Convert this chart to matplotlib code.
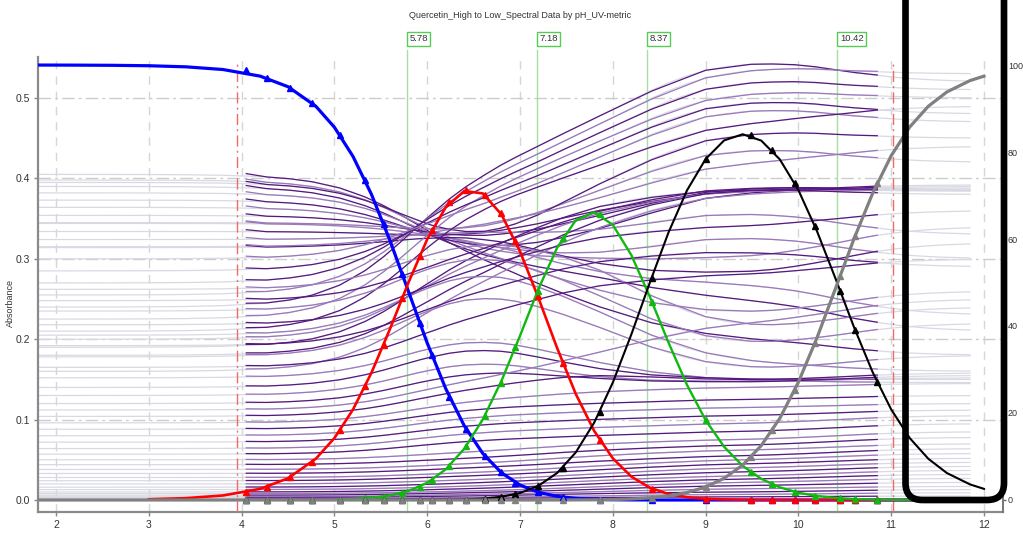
import matplotlib
matplotlib.use("Agg")
import matplotlib.pyplot as plt
import matplotlib.transforms as mtransforms
from matplotlib.patches import FancyBboxPatch
import numpy as np

plt.rcParams['font.family'] = ['Liberation Sans', 'DejaVu Sans']

title = "Quercetin_High to Low_Spectral Data by pH_UV-metric"
pka_values = [5.78, 7.18, 8.37, 10.42]
pka_labels = ["5.78", "7.18", "8.37", "10.42"]

# fitted species distribution (% of sample)
ph_fit = [1.8, 2.2, 2.6, 3.0, 3.4, 3.8, 4.2, 4.5, 4.8, 5.0, 5.2, 5.4, 5.6, 5.8, 6.0,
          6.2, 6.4, 6.6, 6.8, 7.0, 7.2, 7.4, 7.6, 7.8, 8.0, 8.2, 8.4, 8.6, 8.8, 9.0,
          9.2, 9.4, 9.6, 9.8, 10.0, 10.2, 10.4, 10.6, 10.8, 11.0, 11.2, 11.4, 11.6, 11.85, 12.0]
fit_blue = [99.99, 99.97, 99.93, 99.83, 99.58, 98.96, 97.44, 95.01, 90.52, 85.69, 79.0, 70.23,
            59.59, 47.83, 36.1, 25.59, 17.04, 10.67, 6.27, 3.44, 1.76, 0.84, 0.37, 0.15, 0.06,
            0.02, 0.01, 0, 0, 0, 0, 0, 0, 0, 0, 0, 0, 0, 0, 0, 0, 0, 0, 0, 0]
fit_red = [0.01, 0.03, 0.07, 0.17, 0.42, 1.04, 2.56, 4.99, 9.48, 14.22, 20.78, 29.28, 39.37,
           50.08, 59.92, 67.31, 71.04, 70.47, 65.64, 57.18, 46.38, 34.95, 24.43, 15.86, 9.58,
           5.38, 2.82, 1.38, 0.63, 0.28, 0.12, 0.05, 0.02, 0.01, 0, 0, 0, 0, 0, 0, 0, 0, 0, 0, 0]
fit_green = [0, 0, 0, 0, 0, 0, 0, 0, 0, 0.09, 0.22, 0.49, 1.04, 2.09, 3.96, 7.05, 11.79, 18.54,
             27.37, 37.75, 48.57, 57.99, 64.27, 66.14, 63.27, 56.3, 46.69, 36.21, 26.45, 18.37,
             12.23, 7.84, 4.87, 2.91, 1.67, 0.92, 0.47, 0.23, 0.11, 0.05, 0.02, 0.01, 0, 0, 0]
fit_black = [0, 0, 0, 0, 0, 0, 0, 0, 0, 0, 0, 0, 0, 0, 0.02, 0.05, 0.13, 0.31, 0.74, 1.61, 3.28,
             6.21, 10.91, 17.8, 26.99, 38.07, 50.02, 61.48, 71.2, 78.37, 82.67, 84.08, 82.62,
             78.3, 71.25, 61.83, 50.91, 39.69, 29.39, 20.82, 14.23, 9.48, 6.2, 3.58, 2.56]
fit_gray = [0, 0, 0, 0, 0, 0, 0, 0, 0, 0, 0, 0, 0, 0, 0, 0, 0, 0, 0, 0, 0, 0, 0.02, 0.04, 0.1,
            0.23, 0.48, 0.93, 1.71, 2.98, 4.99, 8.03, 12.51, 18.78, 27.09, 37.26, 48.62, 60.08,
            70.5, 79.14, 85.75, 90.51, 93.8, 96.42, 97.44]
curve_start = [1.8, 3.0, 5.0, 6.4, 1.8]

# titration points (pH and species % at each measured point)
ph_meas = [4.05, 4.27, 4.52, 4.76, 5.06, 5.33, 5.53, 5.73, 5.92, 6.05, 6.24, 6.42, 6.62, 6.79,
           6.95, 7.19, 7.46, 7.86, 8.42, 9.0, 9.49, 9.72, 9.96, 10.18, 10.45, 10.61, 10.85]
pts_blue = [98.9, 97.0, 94.8, 91.3, 83.9, 73.5, 63.5, 52.0, 40.7, 33.3, 23.7, 16.3, 10.1, 6.4,
            4.0, 1.8, 0.7, 0.1, 0, 0, 0, 0, 0, 0, 0, 0, 0]
pts_red = [1.8, 3.0, 5.2, 8.7, 16.0, 26.1, 35.7, 46.4, 56.2, 62.0, 68.4, 71.2, 70.2, 66.0, 59.6,
           46.9, 31.6, 13.7, 2.6, 0.3, 0, 0, 0, 0, 0, 0, 0]
pts_green = [0, 0, 0, 0, 0.1, 0.4, 0.8, 1.6, 3.1, 4.6, 7.8, 12.4, 19.3, 26.9, 35.1, 48.0, 60.3,
             65.8, 45.6, 18.4, 6.4, 3.6, 1.9, 1.0, 0.4, 0.2, 0.1]
pts_black = [0, 0, 0, 0, 0, 0, 0, 0, 0, 0, 0.1, 0.1, 0.3, 0.7, 1.3, 3.2, 7.4, 20.3, 51.1, 78.4,
             83.8, 80.4, 72.9, 62.9, 48.1, 39.1, 27.1]
pts_gray = [0, 0, 0, 0, 0, 0, 0, 0, 0, 0, 0, 0, 0, 0, 0, 0, 0, 0.1, 0.5, 3.0, 9.8, 16.0, 25.3,
            36.2, 51.5, 60.7, 72.9]

# absorbance of each pure species, one entry per wavelength
abs_s0 = [.405, .398, .390, .382, .373, .364, .354, .344, .334, .324, .314, .345, .395, .315,
          .240, .255, .270, .225, .285, .300, .210,
          .200, .180, .160, .190,
          .262, .248, .235, .218, .205, .192, .178, .165, .152, .140, .130, .120, .112, .104,
          .096, .088, .080, .072, .064, .057,
          .050, .044, .038, .033, .028, .024, .020, .016, .013, .010, .008, .006, .004, .003,
          .002, .001]
abs_s1 = [.300, .305, .300, .310, .305, .315, .320, .325, .325, .335, .335, .330, .310, .340,
          .410, .400, .390, .385, .375, .365, .370,
          .300, .280, .270, .310,
          .330, .310, .320, .290, .300, .260, .270, .230, .210, .200, .180, .165, .150, .140,
          .125, .115, .105, .095, .085, .075,
          .060, .052, .045, .040, .034, .030, .025, .021, .017, .014, .011, .009, .007, .005,
          .003, .002]
abs_s2 = [.240, .300, .280, .260, .330, .300, .350, .280, .360, .330, .290, .380, .390, .370,
          .470, .460, .450, .440, .430, .420, .410,
          .360, .350, .340, .370,
          .300, .360, .260, .330, .240, .300, .220, .270, .170, .160, .150, .150, .180, .160,
          .135, .120, .110, .100, .090, .080,
          .070, .062, .055, .048, .042, .037, .032, .028, .024, .020, .016, .013, .010, .008,
          .005, .003]
abs_s3 = [.200, .300, .250, .230, .385, .330, .390, .270, .385, .360, .280, .440, .460, .420,
          .550, .540, .525, .510, .500, .490, .470,
          .385, .388, .383, .387,
          .210, .390, .190, .340, .170, .310, .160, .280, .148, .150, .147, .146, .220, .148,
          .140, .125, .115, .105, .095, .085,
          .075, .068, .062, .055, .050, .045, .040, .035, .030, .026, .022, .018, .014, .010,
          .007, .004]
abs_s4 = [.180, .340, .210, .260, .390, .300, .385, .230, .392, .330, .320, .420, .450, .440,
          .520, .530, .510, .500, .480, .470, .490,
          .388, .384, .386, .380,
          .240, .385, .220, .360, .160, .290, .180, .300, .146, .150, .152, .155, .250, .158,
          .145, .130, .120, .112, .105, .095,
          .085, .078, .070, .064, .058, .052, .047, .042, .037, .032, .027, .022, .017, .013,
          .009, .005]

species_colors = ['#0000ff', '#ff0000', '#10b810', '#000000', '#808080']
species_lw = [2.3, 1.9, 1.7, 1.5, 2.3]

fig = plt.figure(figsize=(10.23, 5.35), dpi=100)
ax = fig.add_axes([38 / 1023, 23 / 535, 965 / 1023, 455 / 535])
ax.set_xlim(1.806, 12.205)
ax.set_ylim(-0.0149, 0.551)

spectra = np.array([abs_s0, abs_s1, abs_s2, abs_s3, abs_s4]).T
fit_fr = np.array([fit_blue, fit_red, fit_green, fit_black, fit_gray]) / 100.0
pts_fr = np.array([pts_blue, pts_red, pts_green, pts_black, pts_gray]) / 100.0
phf = np.array(ph_fit)
keep = phf <= 11.85
fit_abs = spectra @ fit_fr
meas_abs = spectra @ pts_fr

# grid
for x in range(2, 13):
    ax.axvline(x, color='#d6d6d6', lw=1, ls=(0, (6, 5)), zorder=0)
for y in [0.1, 0.2, 0.3, 0.4, 0.5]:
    ax.axhline(y, color='#cccccc', lw=1, ls=(0, (9, 3, 2, 3)), zorder=0)

for row in fit_abs:
    ax.plot(phf[keep], row[keep], color='#d9d9e4', lw=0.9, zorder=1)
for i, row in enumerate(meas_abs):
    ax.plot(ph_meas, row, color='#56187f' if i % 2 == 0 else '#9a78ba', lw=0.9, zorder=2)

blend = mtransforms.blended_transform_factory(ax.transData, ax.transAxes)
for p, lab in zip(pka_values, pka_labels):
    ax.plot([p, p], [0, 1.016], color='#a6dea6', lw=1, transform=blend, clip_on=False, zorder=1.5)
    ax.text(p, 1.04, lab, transform=mtransforms.offset_copy(blend, fig, x=2.5, units='dots'),
            ha='left', va='center', fontsize=6.8, color='#333333',
            bbox=dict(boxstyle='square,pad=0.25', fc='white', ec='#55cc55', lw=1))
for p in [3.95, 11.02]:
    ax.plot([p, p], [0, 0.993], color='#f06a6a', lw=1, ls=(0, (8, 3, 1.5, 3)),
            transform=blend, clip_on=False, zorder=3)

ax.set_xticks(range(2, 13))
ax.set_yticks([0, 0.1, 0.2, 0.3, 0.4, 0.5])
ax.set_yticklabels(['0.0', '0.1', '0.2', '0.3', '0.4', '0.5'])
ax.tick_params(labelsize=7.5, colors='#333333', length=3, width=1, pad=2.5)
ax.tick_params(axis='both', color='#888888')
for s in ['top', 'right']:
    ax.spines[s].set_visible(False)
for s in ['left', 'bottom']:
    ax.spines[s].set_color('#8a8a8a')
    ax.spines[s].set_linewidth(1.6)
ax.set_ylabel('Absorbance', fontsize=6.5, color='#333333')
ax.yaxis.set_label_coords(-0.024, 0.46)

ax2 = ax.twinx()
ax2.set_ylim(-2.76, 101.84)
phm = np.array(ph_meas)
for k in range(5):
    m = phf >= curve_start[k]
    ax2.plot(phf[m], fit_fr[k][m] * 100, color=species_colors[k], lw=species_lw[k], zorder=4)
for k in range(5):
    ax2.plot(phm, pts_fr[k] * 100, ls='none', marker='^', ms=5, color=species_colors[k], zorder=5)
ax2.set_yticks([0, 20, 40, 60, 80, 100])
ax2.tick_params(labelsize=6.5, colors='#333333', length=2.5, width=1, pad=1)
ax2.tick_params(axis='y', color='#666666')
for s in ['top', 'left', 'bottom']:
    ax2.spines[s].set_visible(False)
ax2.spines['right'].set_color('#777777')
ax2.spines['right'].set_linewidth(1.4)

fig.text(520 / 1023, 1 - 15 / 535, title, ha='center', va='center', fontsize=6.5, color='#333333')

box = FancyBboxPatch((9.055, 0.35), 0.985, 5.6, boxstyle='round,pad=0,rounding_size=0.17',
                     transform=fig.dpi_scale_trans, fc='none', ec='black', lw=4.8, zorder=10)
fig.add_artist(box)

fig.savefig('out.png', dpi=100)
